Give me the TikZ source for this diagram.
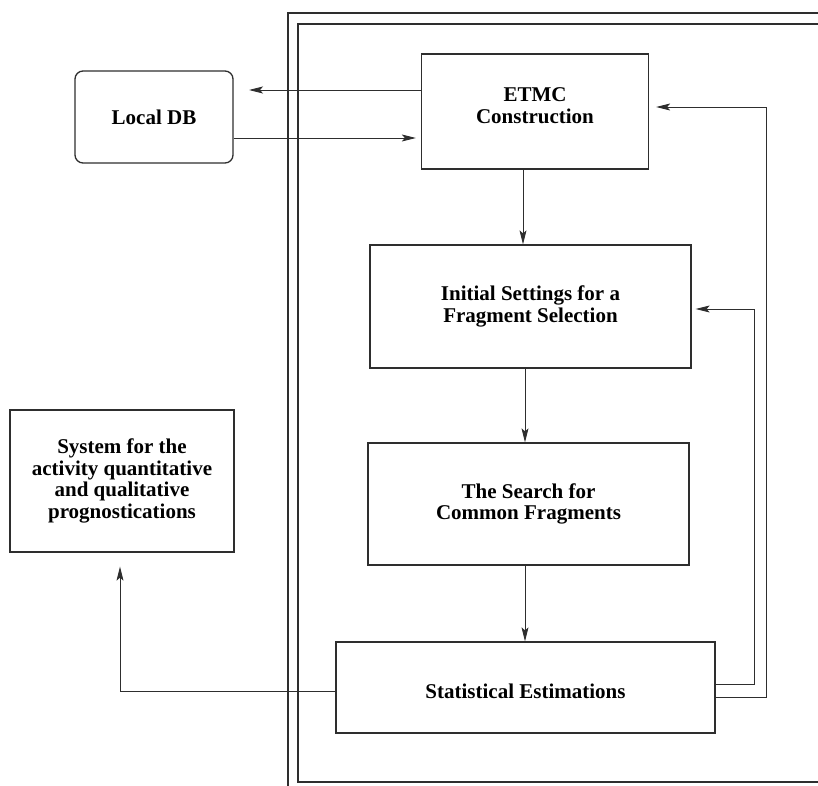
\documentclass[tikz,border=0pt]{standalone}
\usepackage{fontspec}
\setmainfont{Liberation Serif}
\usetikzlibrary{arrows.meta}
\definecolor{ink}{HTML}{2E2E2E}
\begin{document}
\begin{tikzpicture}[x=1bp,y=-1bp,
  every node/.style={font=\bfseries\fontsize{21bp}{21.5bp}\selectfont, text=black},
  box/.style={draw=ink, line width=1.3bp, inner sep=0pt, align=center},
  arr/.style={draw=ink, line width=0.9bp, -{Stealth[length=14bp,width=7bp,inset=3bp]}},
  frame/.style={draw=ink, line width=1.5bp}]
\useasboundingbox (0,0) rectangle (818,786);
% frames
\draw[frame] (288,786) -- (288,13) -- (818,13);
\draw[frame] (818,24) -- (298,24) -- (298,782) -- (818,782);
% nodes
\node[box, rounded corners=8bp, minimum width=158bp, minimum height=92bp] (ldb) at (154,117) {Local DB};
\node[box, minimum width=227bp, minimum height=115bp,
  label={[anchor=center, align=center, yshift=6bp]center:ETMC\\Construction}] (etmc) at (535,111.5) {};
\node[box, minimum width=321bp, minimum height=123bp] (init) at (530.5,306.5) {Initial Settings for a\\Fragment Selection};
\node[box, minimum width=321bp, minimum height=122bp] (search) at (528.5,504) {The Search for\\Common Fragments};
\node[box, minimum width=379bp, minimum height=91bp,
  label={[anchor=center, yshift=-4bp]center:Statistical Estimations}] (stat) at (525.5,687.5) {};
\node[box, minimum width=224bp, minimum height=142bp] (sys) at (122,481) {System for the\\activity quantitative\\and qualitative\\prognostications};
% helper coordinates
\coordinate (ldtip) at (249,90);
\coordinate (xa) at (523,0);
\coordinate (xb) at (525,0);
\coordinate (ya) at (0,138);
\coordinate (c1) at (754,684);
\coordinate (c2) at (754,309);
\coordinate (d1) at (766,697);
\coordinate (d2) at (766,107);
\coordinate (e1) at (120,691);
% connectors
\draw[arr] (etmc.west |- ldtip) -- (ldtip);
\draw[arr, shorten >=5bp] (ldb.east |- ya) -- (etmc.west |- ya);
\draw[arr] (etmc.south -| xa) -- (init.north -| xa);
\draw[arr] (init.south -| xb) -- (search.north -| xb);
\draw[arr] (search.south -| xb) -- (stat.north -| xb);
\draw[arr, shorten >=4bp] (stat.east |- c1) -- (c1) -- (c2) -- (init.east |- c2);
\draw[arr, shorten >=7bp] (stat.east |- d1) -- (d1) -- (d2) -- (etmc.east |- d2);
\draw[arr, shorten >=14bp] (stat.west |- e1) -- (e1) -- (sys.south -| e1);
\end{tikzpicture}
\end{document}
